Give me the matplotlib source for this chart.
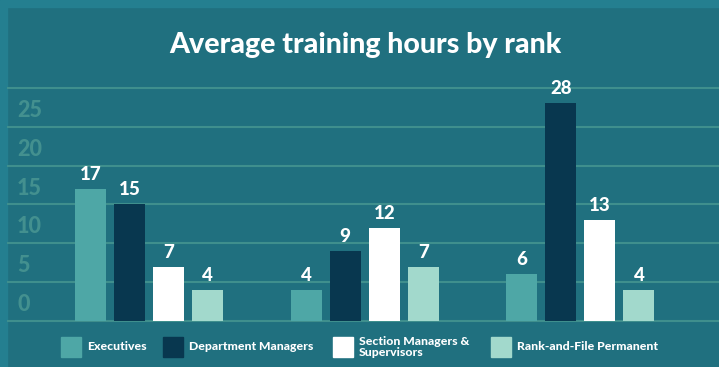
import numpy as np
import matplotlib.pyplot as plt
from matplotlib.patches import Rectangle

plt.rcParams['font.family'] = ['Lato', 'DejaVu Sans']

# average training hours, one value per group for each rank
series = ["Executives", "Department Managers", "Section Managers &\nSupervisors", "Rank-and-File Permanent"]
executives = [17, 4, 6]
department_managers = [15, 9, 28]
section_managers = [7, 12, 13]
rank_and_file = [4, 7, 4]
values = [executives, department_managers, section_managers, rank_and_file]

colors = ["#4ea7a6", "#08374f", "#ffffff", "#a2d9cc"]
bg = "#20707f"
border = "#247f90"
grid_color = "#3f8f8d"
tick_color = "#43908f"

grid_values = [0, 5, 10, 15, 20, 25, 30]
tick_labels = ["0", "5", "10", "15", "20", "25"]

W, H = 719, 367
fig = plt.figure(figsize=(W / 100, H / 100), dpi=100)
fig.patch.set_facecolor(bg)

# frame strips on the top and left edges
fig.add_artist(Rectangle((0, 1 - 7 / H), 1, 7 / H, transform=fig.transFigure, color=border, zorder=0))
fig.add_artist(Rectangle((0, 0), 7 / W, 1, transform=fig.transFigure, color=border, zorder=0))

ax = fig.add_axes([7 / W, (H - 330) / H, 712 / W, 260 / H])
ax.set_facecolor(bg)
ax.set_xlim(-0.658, 2.642)
ax.set_ylim(-(330 - 321) / 7.77, (321 - 70) / 7.77)
ax.axis("off")

for g in grid_values:
    ax.axhline(g, color=grid_color, lw=1.5, zorder=1)

for i, lab in enumerate(tick_labels):
    ax.text(10 / 712, grid_values[i] + 2.1, lab, transform=ax.get_yaxis_transform(),
            ha="left", va="center", fontsize=15.5, fontweight="black", color=tick_color)

x = np.arange(len(executives))
pitch = 0.1808
width = 0.1437
for k, vals in enumerate(values):
    xs = x + (k - 1.5) * pitch
    ax.bar(xs, vals, width=width, color=colors[k], zorder=2)
    for xi, v in zip(xs, vals):
        ax.annotate(str(v), (xi, v), xytext=(0, 6.5), textcoords="offset points",
                    ha="center", va="baseline", fontsize=13.5, fontweight="black",
                    color="white")

fig.text(365 / W, 1 - 45 / H, "Average training hours by rank", ha="center", va="center",
         fontsize=20.5, fontweight="black", color="white")

# legend row along the bottom
legend_x = [61, 163, 333, 491]
for k, name in enumerate(series):
    lx = legend_x[k]
    fig.add_artist(Rectangle((lx / W, 1 - 357 / H), 20 / W, 20 / H,
                             transform=fig.transFigure, color=colors[k]))
    fig.text((lx + 26) / W, 1 - 347 / H, name, ha="left", va="center",
             fontsize=8.8, fontweight="black", color="white", linespacing=1.0)

fig.savefig("out.png", dpi=100, facecolor=bg)
